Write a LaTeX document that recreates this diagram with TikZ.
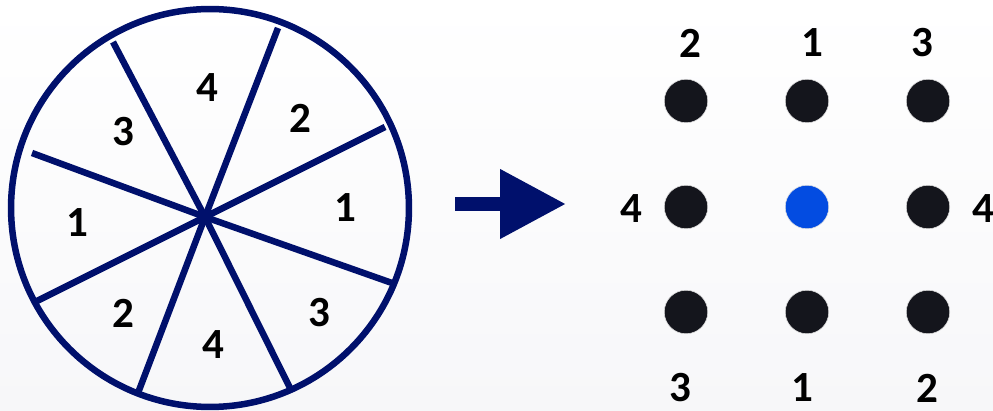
\documentclass[tikz,border=0pt]{standalone}
\usepackage{fontspec}
\setmainfont{Carlito}[BoldFont={* Bold}]
\usepackage{xcolor}
\usepackage{tikz}
\usetikzlibrary{arrows.meta, positioning}
\definecolor{mynavy}{RGB}{0,16,108}
\definecolor{mydot}{RGB}{20,21,28}
\definecolor{myblue}{RGB}{3,76,225}
\definecolor{mybg}{RGB}{247,247,249}
\tikzset{
  rim/.style={circle, draw=mynavy, line width=0.13cm, minimum size=7.96cm, inner sep=0pt},
  spoke/.style={draw=mynavy, line width=0.13cm},
  num/.style={font=\fontsize{24.5}{28}\selectfont\bfseries, text=black, inner sep=0pt},
  dot/.style={circle, fill=mydot, draw=black!12, line width=0.3pt, minimum size=0.87cm, inner sep=0pt},
  bluedot/.style={dot, fill=myblue},
  arrow/.style={-{Triangle[length=1.32cm, width=1.32cm]}, line width=0.28cm, color=mynavy}
}

\begin{document}
\begin{tikzpicture}[x=0.02cm, y=-0.02cm]
  % Background
  \shade[top color=white, bottom color=mybg] (0,0) rectangle (993,411);
  \useasboundingbox (0,0) rectangle (993,411);
  % Wheel
  \node[rim] (wheel) at (210,208) {};
  \coordinate (hub) at (205,217);
  \draw[spoke] (113,42) -- (hub) -- (292,392);
  \draw[spoke] (278,28) -- (hub) -- (138,393);
  \draw[spoke] (385,127) -- (hub) -- (35,302);
  \draw[spoke] (32,153) -- (hub) -- (392,283);
  % Wheel numbers
  \node[num] (w4a) at (207,88) {4};
  \node[num] (w2a) at (300,118) {2};
  \node[num] (w3a) at (123,132) {3};
  \node[num] (w1a) at (77,223) {1};
  \node[num] (w1b) at (345,208) {1};
  \node[num] (w2b) at (123,313) {2};
  \node[num] (w4b) at (213,345) {4};
  \node[num] (w3b) at (319,313) {3};
  % Arrow
  \coordinate (arrowstart) at (455,204);
  \coordinate (arrowend) at (566,204);
  \draw[arrow] (arrowstart) -- (arrowend);
  % Dots
  \node[dot] (tl) at (686,101) {};
  \node[dot] (tc) at (807,101) {};
  \node[dot] (tr) at (928,101) {};
  \node[dot] (ml) at (686,207) {};
  \node[bluedot] (mc) at (807,207) {};
  \node[dot] (mr) at (928,207) {};
  \node[dot] (bl) at (686,312) {};
  \node[dot] (bc) at (807,312) {};
  \node[dot] (br) at (928,312) {};
  % Dot numbers
  \node[num] (ntl) at (690,43) {2};
  \node[num] (ntc) at (812,43) {1};
  \node[num] (ntr) at (922,43) {3};
  \node[num] (nml) at (631,209) {4};
  \node[num] (nmr) at (983,209) {4};
  \node[num] (nbl) at (680,388) {3};
  \node[num] (nbc) at (802,388) {1};
  \node[num] (nbr) at (927,388) {2};
\end{tikzpicture}
\end{document}
